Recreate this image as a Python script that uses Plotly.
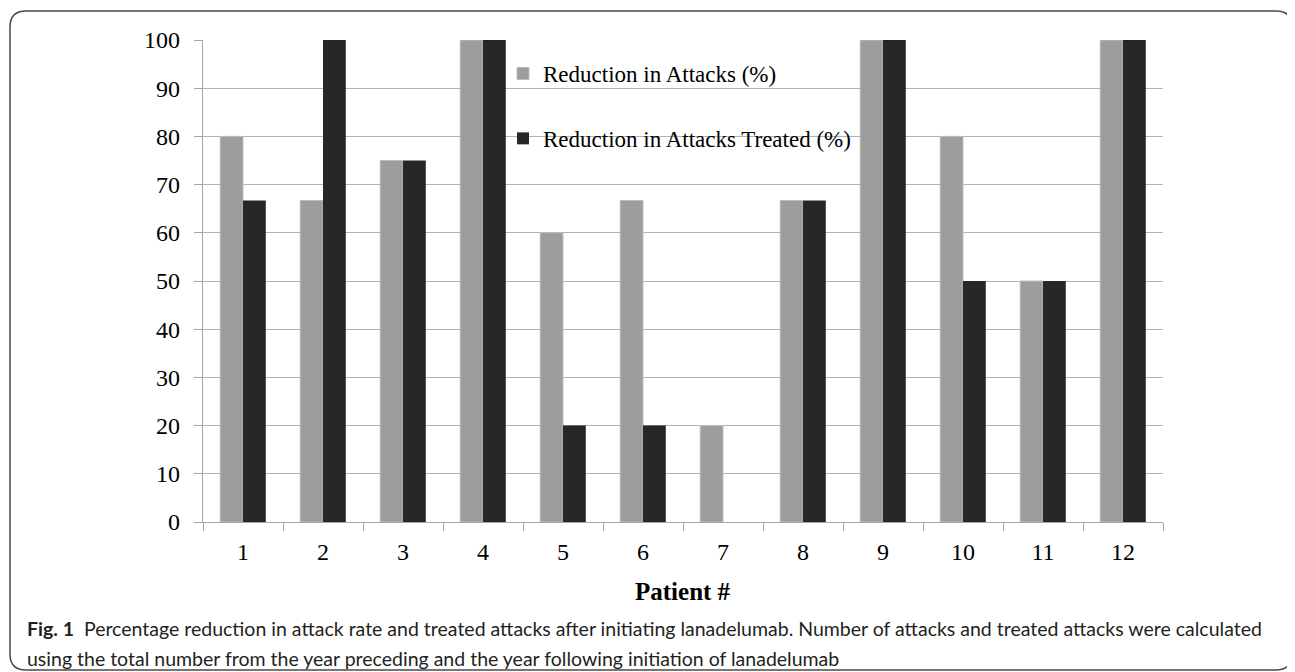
import plotly.graph_objects as go

patients = ["1", "2", "3", "4", "5", "6", "7", "8", "9", "10", "11", "12"]
reduction_attacks = [80, 66.7, 75, 100, 60, 66.7, 20, 66.7, 100, 80, 50, 100]
reduction_treated = [66.7, 100, 75, 100, 20, 20, 0, 66.7, 100, 50, 50, 100]
y_ticks = [0, 10, 20, 30, 40, 50, 60, 70, 80, 90, 100]

OFF = 8  # page body margin
W, H = 1295 - OFF, 672 - OFF
# plot area in screenshot pixels
SL, SR, ST, SB = 203, 1163, 40, 522
L, R, T, B = SL - OFF, SR - OFF, ST - OFF, SB - OFF


def px(x):  # screenshot x -> paper
    return (x - OFF - L) / (R - L)


def py(y):  # screenshot y -> paper
    return (B - (y - OFF)) / (B - T)


fig = go.Figure()
fig.add_trace(go.Bar(
    x=patients, y=reduction_attacks, name="Reduction in Attacks (%)",
    marker=dict(color="#9d9d9d", line=dict(color="#bdbdbd", width=1)),
    legendgroup="a",
))
fig.add_trace(go.Bar(
    x=patients, y=reduction_treated, name="Reduction in Attacks Treated (%)",
    marker=dict(color="#272727", line=dict(width=0)),
    legendgroup="b",
))

# rounded frame (screenshot pixels)
x0, x1, y0, y1, r = 10, 1292, 11, 670, 16
pts = [
    ("M", x0 + r, y0), ("L", x1 - r, y0), ("Q", x1, y0, x1, y0 + r),
    ("L", x1, y1 - r), ("Q", x1, y1, x1 - r, y1), ("L", x0 + r, y1),
    ("Q", x0, y1, x0, y1 - r), ("L", x0, y0 + r), ("Q", x0, y0, x0 + r, y0),
]
path = ""
for p in pts:
    cmd = p[0]
    coords = p[1:]
    s = " ".join(f"{px(coords[i]):.5f},{py(coords[i+1]):.5f}" for i in range(0, len(coords), 2))
    path += f"{cmd} {s} "
path += "Z"

fig.update_layout(
    width=W, height=H,
    margin=dict(l=L, r=W - R, t=T, b=H - B, pad=0),
    paper_bgcolor="white", plot_bgcolor="white",
    barmode="group", bargap=0.43, bargroupgap=0,
    font=dict(family="Liberation Serif", color="black"),
    showlegend=True,
    legend=dict(
        x=px(503), y=py(52), xanchor="left", yanchor="top",
        bgcolor="rgba(0,0,0,0)", font=dict(family="Liberation Serif", size=23, color="black"),
        traceorder="grouped", tracegroupgap=32, itemwidth=30,
    ),
    xaxis=dict(
        type="category", showgrid=False, showline=True, linecolor="#a6a6a6", linewidth=1.3,
        ticks="outside", tickson="boundaries", ticklen=8, tickcolor="#a6a6a6", tickwidth=1.3,
        tickfont=dict(family="Liberation Serif", size=24, color="black"),
        ticklabelstandoff=8,
    ),
    yaxis=dict(
        range=[0, 100], tickmode="array", tickvals=y_ticks,
        showgrid=True, gridcolor="#b3b3b3", gridwidth=1.3,
        showline=True, linecolor="#a6a6a6", linewidth=1.3,
        ticks="outside", ticklen=8, tickcolor="#a6a6a6", tickwidth=1.3,
        tickfont=dict(family="Liberation Serif", size=24, color="black"),
        ticklabelstandoff=9, zeroline=False,
    ),
    shapes=[dict(type="path", path=path, xref="paper", yref="paper",
                 line=dict(color="#4a4a4a", width=1.5), layer="above")],
    annotations=[
        dict(text="<b>Patient #</b>", x=0.5, y=py(591), xref="paper", yref="paper",
             xanchor="center", yanchor="middle", showarrow=False,
             font=dict(family="Liberation Serif", size=25, color="black")),
        dict(text="<b>Fig. 1</b>  Percentage reduction in attack rate and treated attacks after initiating lanadelumab. "
                  "Number of attacks and treated attacks were calculated",
             x=px(25), y=py(628), xref="paper", yref="paper", xanchor="left", yanchor="middle",
             showarrow=False, align="left",
             font=dict(family="Lato", size=19.5, color="#231f20")),
        dict(text="using the total number from the year preceding and the year following initiation of lanadelumab",
             x=px(25), y=py(658), xref="paper", yref="paper", xanchor="left", yanchor="middle",
             showarrow=False, align="left",
             font=dict(family="Lato", size=19.5, color="#231f20")),
    ],
)

fig.write_html("out.html")
